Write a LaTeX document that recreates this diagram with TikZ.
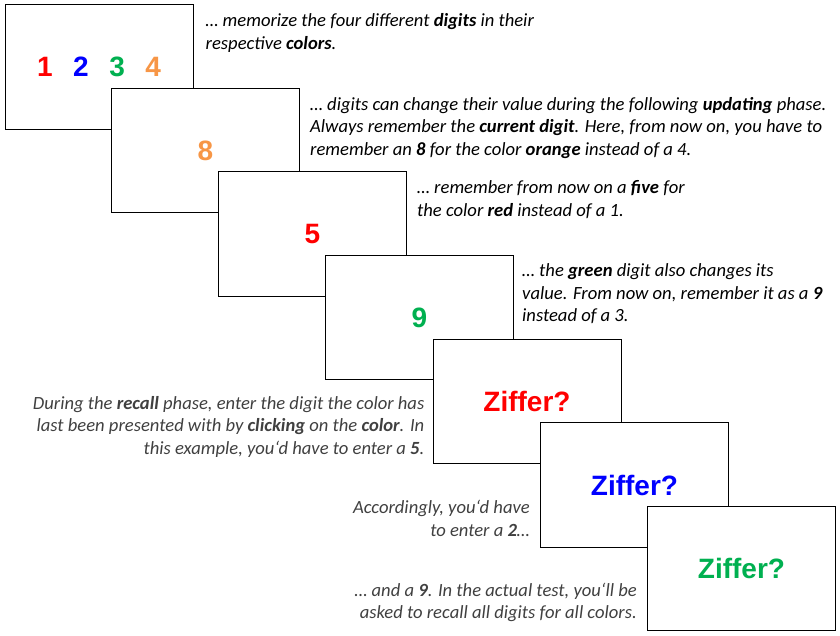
\documentclass[tikz,border=0pt]{standalone}
\usepackage{fontspec}
\setmainfont{Carlito}
\newfontfamily\digitfont{Liberation Sans}
\usetikzlibrary{positioning}
\definecolor{cuered}{HTML}{FF0000}
\definecolor{cueblue}{HTML}{0000FF}
\definecolor{cuegreen}{HTML}{00B050}
\definecolor{cueorange}{HTML}{F79646}
\definecolor{notegray}{HTML}{404040}

\begin{document}
\begin{tikzpicture}[x=1pt,y=1pt,
  screen/.style={draw=black,line width=1pt,fill=white,minimum width=188pt,minimum height=124.5pt,inner sep=0pt,font=\digitfont\bfseries\fontsize{28}{30}\selectfont},
  note/.style={align=left,inner sep=0pt,font=\itshape\fontsize{18.6}{22.5}\selectfont},
  recallnote/.style={note,align=right,text=notegray}
]
\useasboundingbox (0,0) rectangle (840,-635);
% study phase
\node[screen] (s1) at (99,-67) {\textcolor{cuered}{1}\hspace{20.5pt}\textcolor{cueblue}{2}\hspace{20.5pt}\textcolor{cuegreen}{3}\hspace{20.5pt}\textcolor{cueorange}{4}};
\node[note,anchor=north west] (t1) at ([xshift=12pt,yshift=-9pt]s1.north east) {\dots\ memorize the four different \textbf{digits} in their\\respective \textbf{colors}.};
% updating phase
\node[screen] (s2) at (205.5,-150.5) {\textcolor{cueorange}{8}};
\node[note,anchor=north west] (t2) at ([xshift=10pt,yshift=-9pt]s2.north east) {\dots\ digits can change their value during the following \textbf{updating} phase.\\Always remember the \textbf{current digit}. Here, from now on, you have to\\remember an \textbf{8} for the color \textbf{orange} instead of a 4.};
\node[screen] (s3) at (312.5,-234) {\textcolor{cuered}{5}};
\node[note,anchor=north west] (t3) at ([xshift=10pt,yshift=-9pt]s3.north east) {\dots\ remember from now on a \textbf{five} for\\the color \textbf{red} instead of a 1.};
\node[screen] (s4) at (419.5,-317.5) {\textcolor{cuegreen}{9}};
\node[note,anchor=north west] (t4) at ([xshift=8pt,yshift=-9pt]s4.north east) {\dots\ the \textbf{green} digit also changes its\\value. From now on, remember it as a \textbf{9}\\instead of a 3.};
% recall phase
\node[screen] (s5) at (527,-401.5) {\textcolor{cuered}{Ziffer?}};
\node[recallnote,anchor=north east] (t5) at ([xshift=-8pt,yshift=-57pt]s5.north west) {During the \textbf{recall} phase, enter the digit the color has\\last been presented with by \textbf{clicking} on the \textbf{color}. In\\this example, you‘d have to enter a \textbf{5}.};
\node[screen] (s6) at (634.5,-485) {\textcolor{cueblue}{Ziffer?}};
\node[recallnote,anchor=north east] (t6) at ([xshift=-10pt,yshift=-78pt]s6.north west) {Accordingly, you‘d have\\to enter a \textbf{2}\dots};
\node[screen] (s7) at (741.5,-568.5) {\textcolor{cuegreen}{Ziffer?}};
\node[recallnote,anchor=north east] (t7) at ([xshift=-10pt,yshift=-77pt]s7.north west) {\dots\ and a \textbf{9}. In the actual test, you‘ll be\\asked to recall all digits for all colors.};
\end{tikzpicture}
\end{document}
